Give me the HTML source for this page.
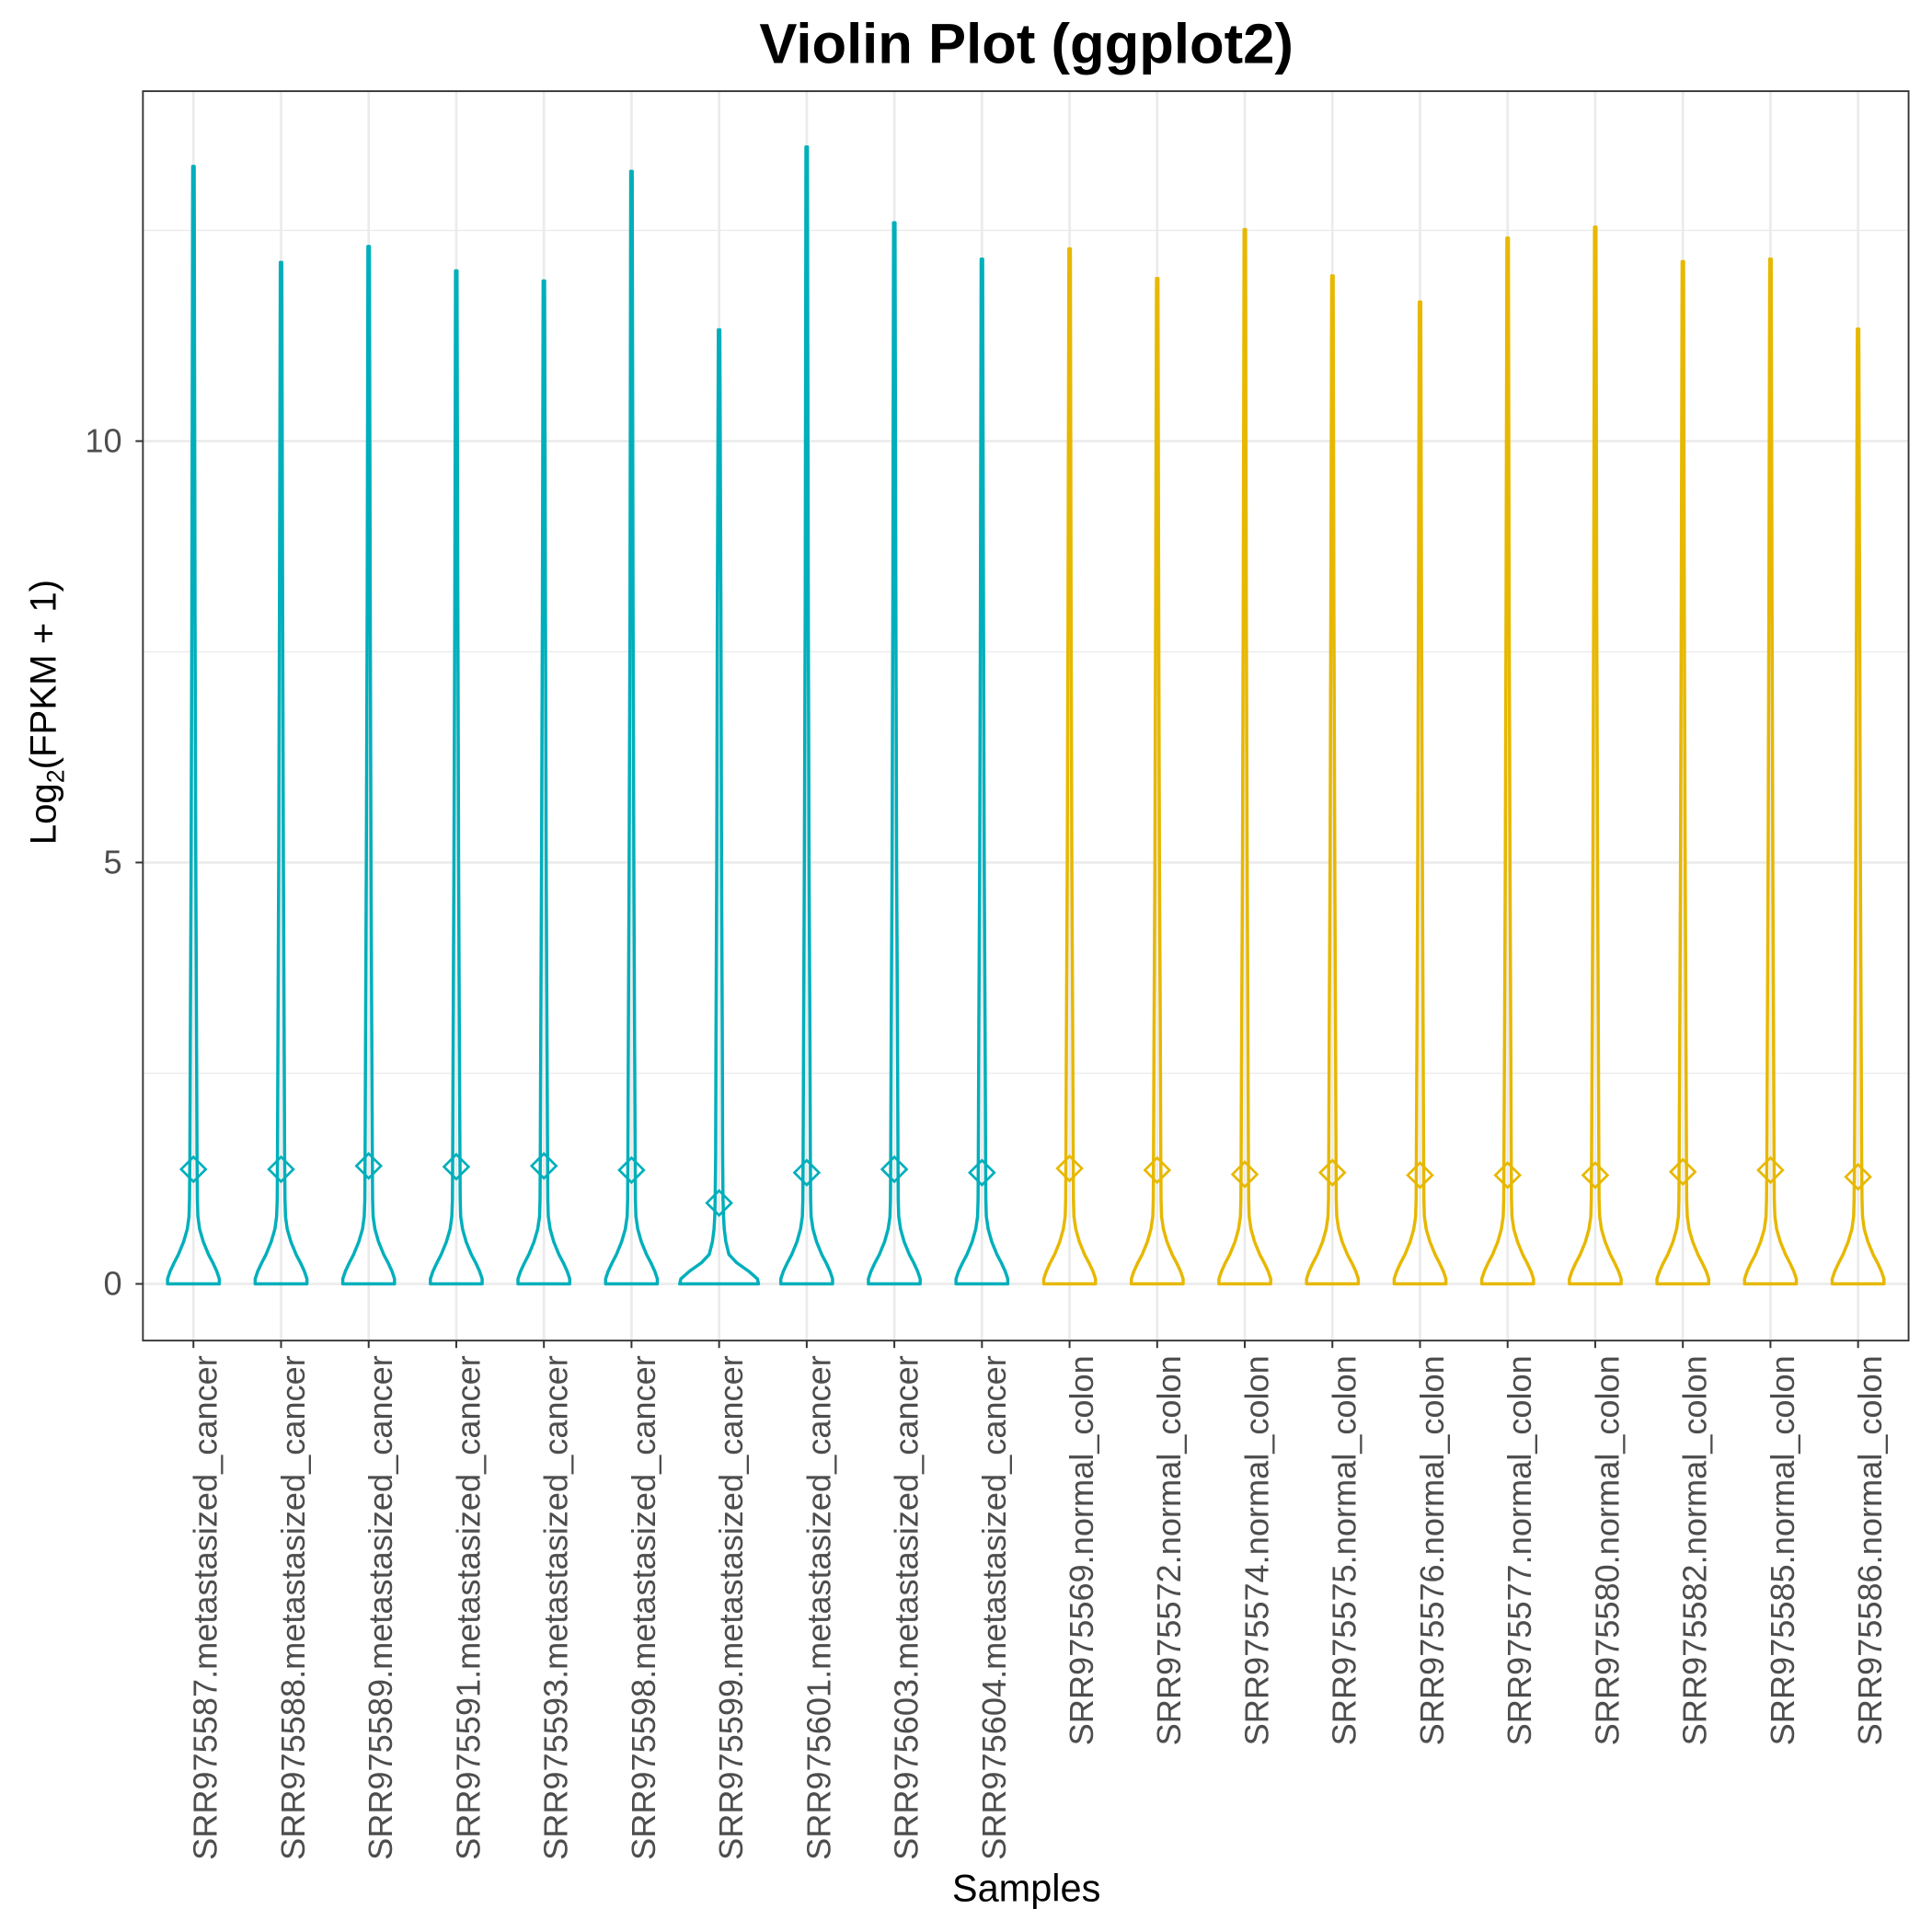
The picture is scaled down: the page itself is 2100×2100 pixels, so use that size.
<!DOCTYPE html>
<html><head><meta charset="utf-8"><style>
html,body{margin:0;padding:0;background:#fff}
svg{display:block}
text{font-family:"Liberation Sans",sans-serif}
</style></head><body>
<svg id="chart" width="2100" height="2100" viewBox="0 0 1568 1568" xmlns="http://www.w3.org/2000/svg">
<rect x="0" y="0" width="1568" height="1568" fill="#fff"/>
<text x="833" y="51" text-anchor="middle" font-size="46" font-weight="bold" fill="#000">Violin Plot (ggplot2)</text>
<g id="grid"></g>
<g id="violins"></g>
<rect x="116" y="74" width="1433" height="1014" fill="none" stroke="#333" stroke-width="1.4"/>
<g id="axes"></g>
<text transform="translate(45,578) rotate(-90)" text-anchor="middle" font-size="30" fill="#000">Log<tspan font-size="20" dy="7">2</tspan><tspan dy="-7">(FPKM + 1)</tspan></text>
<text x="833" y="1543" text-anchor="middle" font-size="31" fill="#000">Samples</text>
</svg>
<script>
const categories = ["SRR975587.metastasized_cancer","SRR975588.metastasized_cancer","SRR975589.metastasized_cancer","SRR975591.metastasized_cancer","SRR975593.metastasized_cancer","SRR975598.metastasized_cancer","SRR975599.metastasized_cancer","SRR975601.metastasized_cancer","SRR975603.metastasized_cancer","SRR975604.metastasized_cancer","SRR975569.normal_colon","SRR975572.normal_colon","SRR975574.normal_colon","SRR975575.normal_colon","SRR975576.normal_colon","SRR975577.normal_colon","SRR975580.normal_colon","SRR975582.normal_colon","SRR975585.normal_colon","SRR975586.normal_colon"];
const groups = ["cancer","cancer","cancer","cancer","cancer","cancer","cancer","cancer","cancer","cancer","normal","normal","normal","normal","normal","normal","normal","normal","normal","normal"];
const maxValues = [13.26,12.12,12.31,12.02,11.90,13.20,11.32,13.49,12.59,12.16,12.28,11.93,12.51,11.96,11.65,12.41,12.54,12.13,12.16,11.33];
const meanValues = [1.36,1.36,1.40,1.39,1.40,1.35,0.96,1.32,1.36,1.32,1.37,1.35,1.30,1.32,1.29,1.29,1.29,1.33,1.35,1.27];
const profileLevels = [0,0.06,0.15,0.25,0.35,0.5,0.65,0.8,1.0,1.5,3,5,8];
const profileDensity = [1.0,1.0,0.9,0.75,0.58,0.38,0.24,0.17,0.15,0.14,0.12,0.09,0.06];
const profileDensityWide = [1.0,0.97,0.75,0.45,0.25,0.17,0.13,0.11,0.1,0.09,0.08,0.06,0.045];
const yTicks = [0,5,10];
const yMinor = [2.5,7.5,12.5];
const colors = {cancer:"#00AFBB", normal:"#E7B800"};
const NS="http://www.w3.org/2000/svg";
const X0=157, DX=(1508-157)/19;
const xScale=i=>X0+i*DX;
const yScale=v=>1042-v*68.4;
const halfMax=21;
function mk(tag,attrs,parent){const e=document.createElementNS(NS,tag);for(const k in attrs)e.setAttribute(k,attrs[k]);parent.appendChild(e);return e;}
const grid=document.getElementById('grid'), vg=document.getElementById('violins'), axes=document.getElementById('axes');
yMinor.forEach(v=>{const l=mk('line',{x1:116,x2:1549,y1:yScale(v),y2:yScale(v),stroke:'#ebebeb','stroke-width':1},grid);

});
yTicks.forEach(v=>{const l=mk('line',{x1:116,x2:1549,y1:yScale(v),y2:yScale(v),stroke:'#ebebeb','stroke-width':2},grid);


const t=mk('line',{x1:110,x2:116,y1:yScale(v),y2:yScale(v),stroke:'#333','stroke-width':1.5},axes);


const tx=mk('text',{x:99,y:yScale(v)+9,'text-anchor':'end','font-size':27,fill:'#4d4d4d'},axes);tx.textContent=v;

});
categories.forEach((c,i)=>{const x=xScale(i);
const g=mk('line',{x1:x,x2:x,y1:74,y2:1088,stroke:'#ebebeb','stroke-width':2},grid);


const t=mk('line',{x1:x,x2:x,y1:1088,y2:1094,stroke:'#333','stroke-width':1.5},axes);


const tx=mk('text',{transform:`translate(${x+19},1100) rotate(-90)`,'text-anchor':'end','font-size':27,fill:'#4d4d4d'},axes);tx.textContent=c;


const col=colors[groups[i]];
const dens = (meanValues[i]<1.1)?profileDensityWide:profileDensity;
const hm = (meanValues[i]<1.1)?32:halfMax;
const pts=[];
profileLevels.forEach((lv,k)=>{if(lv<maxValues[i]) pts.push([lv,dens[k]*hm]);});
pts.push([maxValues[i],0.6]);
let right=pts.map(p=>`${(x+p[1]).toFixed(1)},${yScale(p[0]).toFixed(1)}`);
let left=pts.slice().reverse().map(p=>`${(x-p[1]).toFixed(1)},${yScale(p[0]).toFixed(1)}`);
const poly=mk('polygon',{points:right.concat(left).join(' '),fill:'none',stroke:col,'stroke-width':2.6,'stroke-linejoin':'round'},vg);


const my=yScale(meanValues[i]);
const d=mk('polygon',{points:`${x},${my-10} ${x+10},${my} ${x},${my+10} ${x-10},${my}`,fill:'none',stroke:col,'stroke-width':2},vg);


});
</script>
</body></html>
